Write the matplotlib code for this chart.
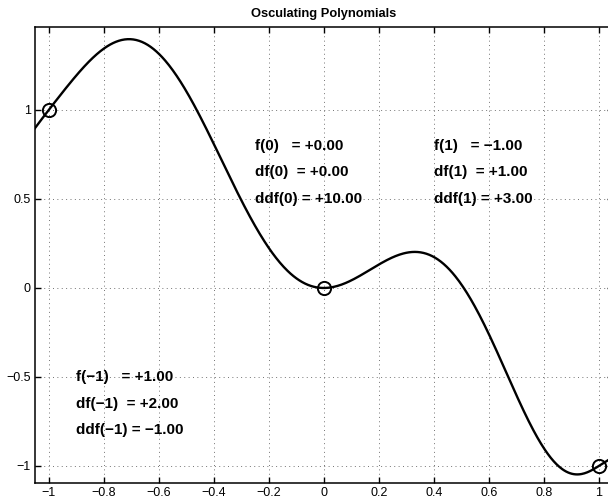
import numpy as np
import matplotlib
matplotlib.use("Agg")
import matplotlib.pyplot as plt

# Conditions (node, value, first derivative, second derivative)
nodes = [-1.0, 0.0, 1.0]
f_vals = [1.0, 0.0, -1.0]
df_vals = [2.0, 0.0, 1.0]
ddf_vals = [-1.0, 10.0, 3.0]

x_ticks = [-1, -0.8, -0.6, -0.4, -0.2, 0, 0.2, 0.4, 0.6, 0.8, 1]
x_ticklabels = ["\u22121", "\u22120.8", "\u22120.6", "\u22120.4", "\u22120.2", "0",
                "0.2", "0.4", "0.6", "0.8", "1"]
y_ticks = [-1, -0.5, 0, 0.5, 1]
y_ticklabels = ["\u22121", "\u22120.5", "0", "0.5", "1"]

labels_left = ["f(\u22121)   = +1.00", "df(\u22121)  = +2.00", "ddf(\u22121) = \u22121.00"]
labels_mid = ["f(0)   = +0.00", "df(0)  = +0.00", "ddf(0) = +10.00"]
labels_right = ["f(1)   = \u22121.00", "df(1)  = +1.00", "ddf(1) = +3.00"]

# Osculating (Hermite) polynomial through the conditions
n = 3 * len(nodes)
A = []
b = []
for xi, fv, dv, ddv in zip(nodes, f_vals, df_vals, ddf_vals):
    A.append([xi ** k for k in range(n)])
    b.append(fv)
    A.append([k * xi ** (k - 1) if k >= 1 else 0.0 for k in range(n)])
    b.append(dv)
    A.append([k * (k - 1) * xi ** (k - 2) if k >= 2 else 0.0 for k in range(n)])
    b.append(ddv)
coef = np.linalg.solve(np.array(A), np.array(b))
poly = np.polynomial.Polynomial(coef)

plt.rcParams['font.family'] = ['Liberation Sans', 'DejaVu Sans']

fig = plt.figure(figsize=(6.08, 5.0), dpi=100)
ax = fig.add_axes([35 / 608, 17 / 500, 577.5 / 608, 456 / 500])

xs = np.linspace(-1.05, 1.05, 600)
ax.plot(xs, poly(xs), color='black', lw=1.7, zorder=3)
ax.plot(nodes, f_vals, 'o', ms=9.5, mfc='none', mec='black', mew=1.4, zorder=4)

ax.set_xlim(-1.05, 1.05)
ax.set_ylim(-1.0955, 1.466)
ax.set_xticks(x_ticks)
ax.set_xticklabels(x_ticklabels)
ax.set_yticks(y_ticks)
ax.set_yticklabels(y_ticklabels)
ax.tick_params(direction='in', length=4.5, width=1.0, labelsize=9, pad=3,
               top=True, right=True)
for s in ax.spines.values():
    s.set_linewidth(1.1)
ax.grid(True, color='0.45', lw=0.7, dashes=(1, 3.5))
ax.set_axisbelow(True)

ax.set_title("Osculating Polynomials", fontsize=9.3, fontweight='bold', pad=7)

ys = [0.8, 0.65, 0.5]
for lbl, y in zip(labels_mid, ys):
    ax.text(-0.25, y, lbl, fontsize=11, fontweight='bold', va='center', ha='left')
for lbl, y in zip(labels_right, ys):
    ax.text(0.4, y, lbl, fontsize=11, fontweight='bold', va='center', ha='left')
for lbl, y in zip(labels_left, [-0.5, -0.65, -0.8]):
    ax.text(-0.9, y, lbl, fontsize=11, fontweight='bold', va='center', ha='left')

fig.savefig("out.png", dpi=100)
